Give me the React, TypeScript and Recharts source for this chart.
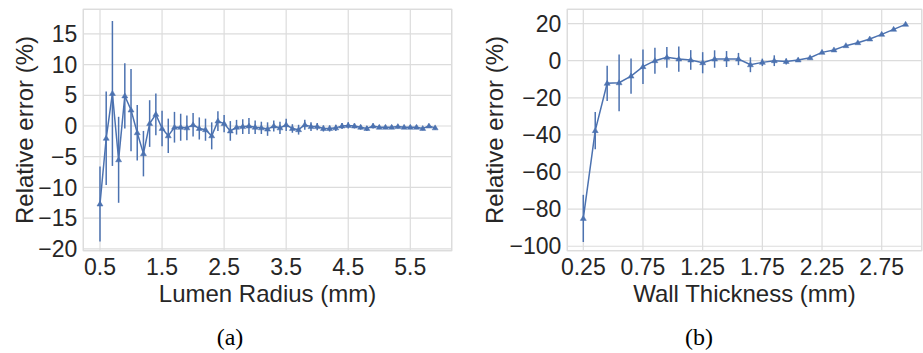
import React from "react";
import {
  LineChart,
  Line,
  XAxis,
  YAxis,
  CartesianGrid,
  ErrorBar,
  ReferenceArea,
  Label,
} from "recharts";

// ---- Data: (a) Lumen radius ----
const lumenRadius = [
  0.5, 0.6, 0.7, 0.8, 0.9, 1.0, 1.1, 1.2, 1.3, 1.4, 1.5, 1.6, 1.7, 1.8, 1.9,
  2.0, 2.1, 2.2, 2.3, 2.4, 2.5, 2.6, 2.7, 2.8, 2.9, 3.0, 3.1, 3.2, 3.3, 3.4,
  3.5, 3.6, 3.7, 3.8, 3.9, 4.0, 4.1, 4.2, 4.3, 4.4, 4.5, 4.6, 4.7, 4.8, 4.9,
  5.0, 5.1, 5.2, 5.3, 5.4, 5.5, 5.6, 5.7, 5.8, 5.9,
];
const lumenError = [
  -12.7, -2.0, 5.3, -5.5, 4.9, 2.6, -1.1, -4.5, 0.4, 1.9, -0.4, -1.6, -0.2,
  -0.2, -0.3, 0.2, -0.4, -0.6, -1.6, 0.8, 0.4, -0.8, -0.2, -0.1, 0.0, -0.2,
  -0.3, -0.5, 0.0, -0.3, 0.2, -0.4, -0.6, 0.2, -0.1, -0.1, -0.4, -0.4, -0.3,
  0.0, 0.1, 0.0, -0.2, -0.4, 0.0, -0.2, -0.2, -0.2, -0.1, -0.2, -0.2, -0.2,
  -0.4, 0.0, -0.3,
];
const lumenStd = [
  6.1, 7.6, 11.8, 7.0, 5.3, 6.7, 4.5, 3.7, 3.8, 3.4, 2.9, 2.8, 2.5, 2.2, 2.0,
  1.9, 1.8, 1.8, 2.2, 1.6, 1.4, 1.6, 1.2, 1.2, 1.3, 1.1, 1.0, 1.1, 0.9, 1.0,
  1.0, 0.7, 0.8, 0.8, 0.7, 0.6, 0.5, 0.5, 0.5, 0.5, 0.5, 0.4, 0.4, 0.4, 0.4,
  0.3, 0.3, 0.3, 0.3, 0.3, 0.3, 0.3, 0.3, 0.3, 0.3,
];
const lumenTicksX = [0.5, 1.5, 2.5, 3.5, 4.5, 5.5];
const lumenTicksY = [-20, -15, -10, -5, 0, 5, 10, 15];

// ---- Data: (b) Wall thickness ----
const wallThickness = [
  0.25, 0.35, 0.45, 0.55, 0.65, 0.75, 0.85, 0.95, 1.05, 1.15, 1.25, 1.35, 1.45,
  1.55, 1.65, 1.75, 1.85, 1.95, 2.05, 2.15, 2.25, 2.35, 2.45, 2.55, 2.65, 2.75,
  2.85, 2.95,
];
const wallError = [
  -85.0, -37.7, -12.2, -11.9, -8.3, -3.2, 0.0, 1.8, 0.9, 0.4, -1.1, 0.9, 0.9,
  0.9, -2.2, -0.9, 0.0, -0.4, 0.4, 1.6, 4.5, 5.8, 8.1, 9.7, 11.7, 14.2, 16.9,
  19.6,
];
const wallStd = [
  12.7, 10.0, 9.5, 15.3, 9.5, 9.3, 7.0, 5.6, 6.8, 5.3, 5.7, 4.7, 4.3, 3.3, 4.0,
  2.0, 2.9, 1.6, 1.0, 0.8, 0.8, 0.7, 0.6, 0.6, 0.6, 0.6, 0.6, 0.6,
];
const wallTicksX = [0.25, 0.75, 1.25, 1.75, 2.25, 2.75];
const wallTicksY = [-100, -80, -60, -40, -20, 0, 20];

const lumenData = lumenRadius.map((x, i) => ({
  x,
  y: lumenError[i],
  err: lumenStd[i],
}));
const wallData = wallThickness.map((x, i) => ({
  x,
  y: wallError[i],
  err: wallStd[i],
}));

const BLUE = "#4c72b0";
const GRID = "#dcdcdc";
const TEXT = "#262626";
const FONT = "'Liberation Sans', Arial, sans-serif";

const fmt = (v: number) => (v < 0 ? "\u2212" + Math.abs(v) : String(v));

const Triangle = (props: any) => {
  const { cx, cy, index } = props;
  if (cx == null || cy == null) return <g key={index} />;
  const h = 5;
  const w = 3;
  return (
    <polygon
      key={index}
      points={`${cx},${cy - h * 0.6} ${cx - w},${cy + h * 0.4} ${cx + w},${cy + h * 0.4}`}
      fill={BLUE}
      stroke={BLUE}
      strokeWidth={0.5}
    />
  );
};

const yLabelContent = (text: string, xOffset: number) => (props: any) => {
  const vb = props.viewBox || {};
  const cx = (vb.x || 0) + xOffset;
  const cy = (vb.y || 0) + (vb.height || 0) / 2;
  return (
    <text
      x={0}
      y={0}
      transform={`translate(${cx},${cy}) rotate(-90)`}
      textAnchor="middle"
      fill={TEXT}
      fontSize={24}
      fontFamily={FONT}
    >
      {text}
    </text>
  );
};

const xLabelContent = (text: string, baselineOffset: number) => (props: any) => {
  const vb = props.viewBox || {};
  const cx = (vb.x || 0) + (vb.width || 0) / 2;
  const y = (vb.y || 0) + baselineOffset;
  return (
    <text
      x={cx}
      y={y}
      textAnchor="middle"
      fill={TEXT}
      fontSize={24}
      fontFamily={FONT}
    >
      {text}
    </text>
  );
};

type PanelProps = {
  data: { x: number; y: number; err: number }[];
  xDomain: [number, number];
  yDomain: [number, number];
  xTicks: number[];
  yTicks: number[];
  xLabel: string;
  yLabel: string;
  width: number;
  yAxisWidth: number;
  rightMargin: number;
  yLabelX: number;
};

const Panel = (p: PanelProps) => (
  <LineChart
    width={p.width}
    height={320}
    data={p.data}
    margin={{ top: 9.3, right: p.rightMargin, bottom: 9.3, left: 0 }}
  >
    <CartesianGrid stroke={GRID} strokeWidth={1.2} />
    <ReferenceArea
      x1={p.xDomain[0]}
      x2={p.xDomain[1]}
      y1={p.yDomain[0]}
      y2={p.yDomain[1]}
      fill="none"
      fillOpacity={0}
      stroke={GRID}
      strokeWidth={1.2}
    />
    <XAxis
      dataKey="x"
      type="number"
      domain={p.xDomain}
      ticks={p.xTicks}
      allowDataOverflow
      axisLine={false}
      tickLine={false}
      tickSize={0}
      tickMargin={8}
      height={60}
      tick={{ fill: TEXT, fontSize: 23, fontFamily: FONT }}
      tickFormatter={fmt}
      interval={0}
    >
      <Label content={xLabelContent(p.xLabel, 51)} />
    </XAxis>
    <YAxis
      type="number"
      domain={p.yDomain}
      ticks={p.yTicks}
      allowDataOverflow
      axisLine={false}
      tickLine={false}
      tickSize={0}
      tickMargin={6}
      width={p.yAxisWidth}
      tick={{ fill: TEXT, fontSize: 23, fontFamily: FONT }}
      tickFormatter={fmt}
      interval={0}
    >
      <Label content={yLabelContent(p.yLabel, p.yLabelX)} />
    </YAxis>
    <Line
      dataKey="y"
      stroke={BLUE}
      strokeWidth={1.5}
      dot={Triangle}
      activeDot={false}
      isAnimationActive={false}
    >
      <ErrorBar
        dataKey="err"
        direction="y"
        width={0}
        stroke={BLUE}
        strokeWidth={1.5}
        isAnimationActive={false}
      />
    </Line>
  </LineChart>
);

const captionStyle: React.CSSProperties = {
  position: "absolute",
  top: 322,
  width: 60,
  textAlign: "center",
  fontFamily: "'Liberation Serif', 'DejaVu Serif', serif",
  fontSize: 24,
  color: "#000",
  lineHeight: "30px",
};

export default function App() {
  return (
    <div
      style={{
        position: "absolute",
        left: 0,
        top: 0,
        width: 923,
        height: 353,
        background: "#fff",
        overflow: "hidden",
      }}
    >
      <div style={{ position: "absolute", left: 0, top: 0 }}>
        <Panel
          data={lumenData}
          xDomain={[0.231, 6.167]}
          yDomain={[-20.3, 19.0]}
          xTicks={lumenTicksX}
          yTicks={lumenTicksY}
          xLabel="Lumen Radius (mm)"
          yLabel="Relative error (%)"
          width={460}
          yAxisWidth={83.3}
          rightMargin={8.3}
          yLabelX={33}
        />
      </div>
      <div style={{ position: "absolute", left: 460, top: 0 }}>
        <Panel
          data={wallData}
          xDomain={[0.116, 3.085]}
          yDomain={[-102.4, 27.7]}
          xTicks={wallTicksX}
          yTicks={wallTicksY}
          xLabel="Wall Thickness (mm)"
          yLabel="Relative error (%)"
          width={463}
          yAxisWidth={107.3}
          rightMargin={1.3}
          yLabelX={43.3}
        />
      </div>
      <div style={{ ...captionStyle, left: 200 }}>(a)</div>
      <div style={{ ...captionStyle, left: 669 }}>(b)</div>
    </div>
  );
}
